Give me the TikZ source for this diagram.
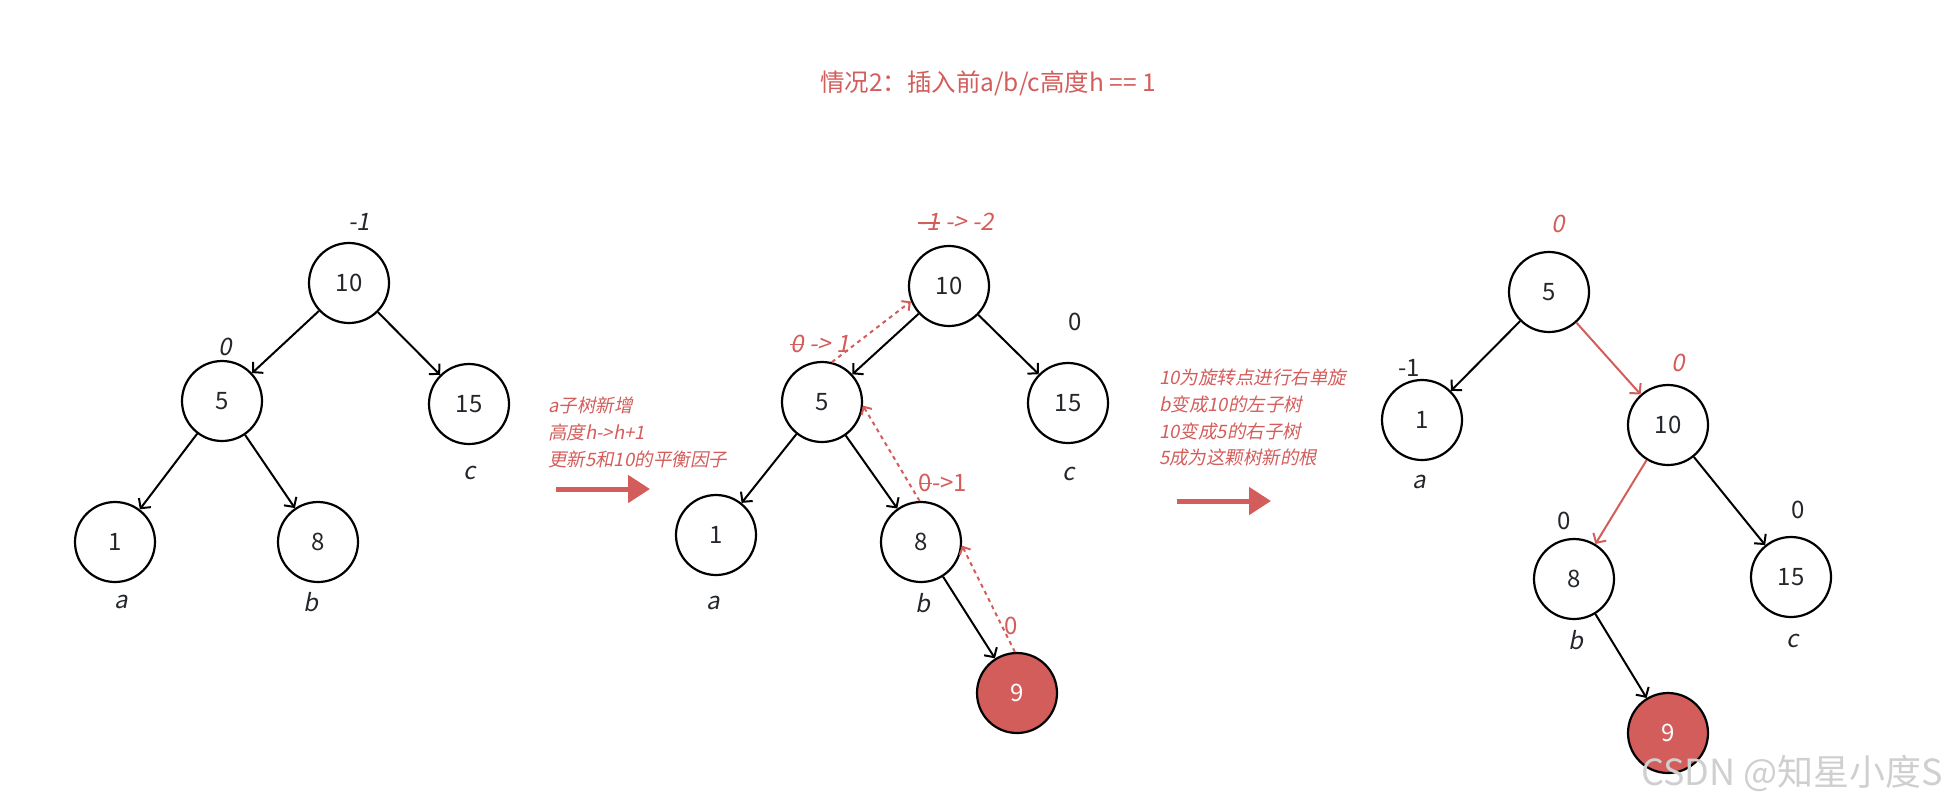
\documentclass[tikz,border=0pt]{standalone}
\usepackage{fontspec}
\setmainfont{Noto Sans CJK SC}
\newfontfamily\slantfont{Noto Sans CJK SC}[FakeSlant=0.2]
\usetikzlibrary{arrows.meta, positioning}
\definecolor{avlred}{HTML}{D35D5B}
\definecolor{nodeink}{HTML}{23262B}
\definecolor{markgray}{HTML}{CFCFCF}
\newsavebox{\strkbox}
\newcommand{\strk}[1]{\sbox{\strkbox}{#1}\rlap{\usebox{\strkbox}}\rule[0.3em]{\wd\strkbox}{1.4pt}}

\tikzset{
  treenode/.style={circle, draw=black, line width=2.2pt, minimum size=80pt, inner sep=0pt,
    text=nodeink, font=\fontsize{24}{28}\selectfont},
  newnode/.style={treenode, fill=avlred, text=white},
  treeedge/.style={line width=2pt, -{Straight Barb[length=7pt,width=15pt]}},
  rededge/.style={treeedge, draw=avlred},
  backtrack/.style={draw=avlred, line width=2pt, dash pattern=on 4pt off 4pt,
    -{Straight Barb[length=6pt,width=12pt]}},
  bfslant/.style={text=nodeink, font=\slantfont\fontsize{24}{28}\selectfont},
  bfplain/.style={text=nodeink, font=\fontsize{24}{28}\selectfont},
  subname/.style={text=nodeink, font=\slantfont\fontsize{24}{28}\selectfont},
  note/.style={text=avlred, font=\slantfont\fontsize{18.5}{26.7}\selectfont, align=left,
    anchor=north west, inner sep=0pt},
  bigarrow/.style={avlred, line width=5pt, -{Triangle[length=22pt,width=27pt]}}
}

\begin{document}
\begin{tikzpicture}[x=1pt, y=-1pt]
  \useasboundingbox (0,0) rectangle (1956,807);

  % titulo
  \node[text=avlred, font=\fontsize{24.5}{28}\selectfont] (title) at (988,83) {情况2：插入前a/b/c高度h == 1};

  % arbol inicial
  \node[treenode] (l10) at (349,283) {10};
  \node[treenode] (l5) at (222,401) {5};
  \node[treenode] (l15) at (469,404) {15};
  \node[treenode] (l1) at (115,542) {1};
  \node[treenode] (l8) at (318,542) {8};
  \draw[treeedge] (l10) -- (l5);
  \draw[treeedge] (l10) -- (l15);
  \draw[treeedge] (l5) -- (l1);
  \draw[treeedge] (l5) -- (l8);
  \node[bfslant] (lbf10) at (359,222) {-1};
  \node[bfslant] (lbf5) at (225,347) {0};
  \node[subname] (la) at (121,602) {a};
  \node[subname] (lb) at (311,602) {b};
  \node[subname] (lc) at (470,473) {c};

  % paso 1
  \node[note] (note1) at (548,397) {a子树新增\\高度h->h+1\\更新5和10的平衡因子};
  \coordinate (s1) at (556,489);
  \coordinate (e1) at (650,489);
  \draw[bigarrow] (s1) -- (e1);

  % arbol tras insertar 9
  \node[treenode] (m10) at (949,286) {10};
  \node[treenode] (m5) at (822,402) {5};
  \node[treenode] (m15) at (1068,403) {15};
  \node[treenode] (m1) at (716,535) {1};
  \node[treenode] (m8) at (921,542) {8};
  \node[newnode] (m9) at (1017,693) {9};
  \draw[treeedge] (m10) -- (m5);
  \draw[treeedge] (m10) -- (m15);
  \draw[treeedge] (m5) -- (m1);
  \draw[treeedge] (m5) -- (m8);
  \draw[treeedge] (m8) -- (m9);
  \draw[backtrack] (m9.93) -- (m8.-5);
  \draw[backtrack] (m8.92) -- (m5.-5);
  \draw[backtrack] (m5.76) -- (m10.202);
  \node[bfslant, text=avlred] (mbf10) at (956,222) {\strk{-1} -> -2};
  \node[bfslant, text=avlred] (mbf5) at (820,344) {\strk{0} -> 1};
  \node[bfplain, text=avlred] (mbf8) at (943,483) {\strk{0}->1};
  \node[bfplain, text=avlred] (mbf9) at (1011,626) {0};
  \node[bfplain] (mbf15) at (1075,322) {0};
  \node[subname] (ma) at (713,603) {a};
  \node[subname] (mb) at (923,603) {b};
  \node[subname] (mc) at (1069,474) {c};

  % paso 2
  \node[note] (note2) at (1159,369) {10为旋转点进行右单旋\\b变成10的左子树\\10变成5的右子树\\5成为这颗树新的根};
  \coordinate (s2) at (1177,501);
  \coordinate (e2) at (1271,501);
  \draw[bigarrow] (s2) -- (e2);

  % arbol tras la rotacion
  \node[treenode] (r5) at (1549,292) {5};
  \node[treenode] (r1) at (1422,420) {1};
  \node[treenode] (r10) at (1668,425) {10};
  \node[treenode] (r8) at (1574,579) {8};
  \node[treenode] (r15) at (1791,577) {15};
  \node[newnode] (r9) at (1668,733) {9};
  \draw[treeedge] (r5) -- (r1);
  \draw[rededge] (r5) -- (r10);
  \draw[rededge] (r10) -- (r8);
  \draw[treeedge] (r10) -- (r15);
  \draw[treeedge] (r8) -- (r9);
  \node[bfslant, text=avlred] (rbf5) at (1558,224) {0};
  \node[bfslant, text=avlred] (rbf10) at (1678,363) {0};
  \node[bfplain] (rbf1) at (1409,368) {-1};
  \node[bfplain] (rbf8) at (1564,521) {0};
  \node[bfplain] (rbf15) at (1798,510) {0};
  \node[subname] (ra) at (1419,482) {a};
  \node[subname] (rb) at (1576,640) {b};
  \node[subname] (rc) at (1793,641) {c};

  % marca de agua
  \node[text=markgray, font=\fontsize{36}{40}\selectfont] (wm) at (1792,773) {CSDN @知星小度S};
\end{tikzpicture}
\end{document}
